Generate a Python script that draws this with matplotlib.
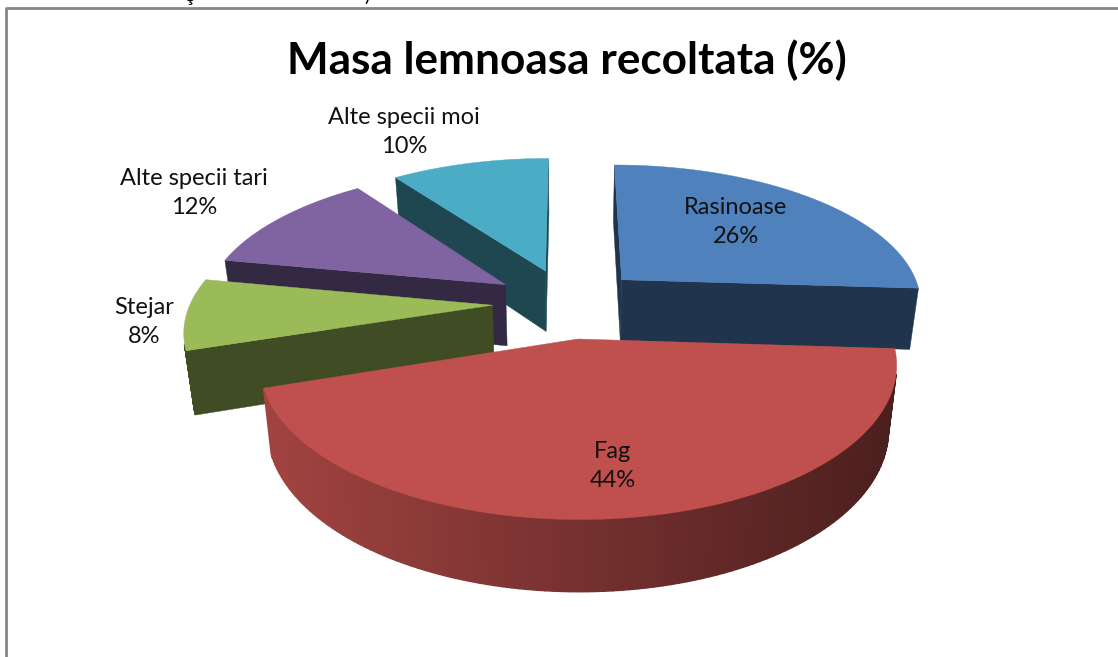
import numpy as np
import matplotlib
matplotlib.use("Agg")
import matplotlib.pyplot as plt
from matplotlib.patches import Polygon

TITLE = "Masa lemnoasa recoltata (%)"
CATEGORIES = ["Rasinoase", "Fag", "Stejar", "Alte specii tari", "Alte specii moi"]
VALUES = [26, 44, 8, 12, 10]
COLORS = ["#4F81BD", "#C0504D", "#9BBB59", "#8064A2", "#4BACC6"]
LABEL_POS = [(736, 222), (613, 466), (144, 322), (194, 193), (404, 132)]
DRAW_ORDER = [4, 0, 3, 2, 1]
GRADIENT_SLICE = 1

# projection of the exploded pie (pixel coordinates of the figure)
CX, CY, A, B, K = 568.0, 303.0, 302.0, 139.5, 0.157
EXPLODE, DEPTH, BOTTOM_SCALE = 0.25, 62.0, 0.975


def project(x, y, bottom=False):
    s = 1.0 / (1.0 - K * y)
    sx = CX + A * x * s
    sy = CY + B * y * s
    if bottom:
        sx = CX + (sx - CX) * BOTTOM_SCALE
        sy = sy + DEPTH * s ** 0.7
    return sx, sy


def shade(color, f):
    return tuple(c * f for c in matplotlib.colors.to_rgb(color))


def area(q):
    q = np.asarray(q)
    x, y = q[:, 0], q[:, 1]
    return 0.5 * np.sum(x * np.roll(y, -1) - np.roll(x, -1) * y)


fig = plt.figure(figsize=(11.18, 6.57), dpi=100)
ax = fig.add_axes([0, 0, 1, 1])
ax.set_xlim(0, 1118)
ax.set_ylim(657, 0)
ax.axis("off")
font = "Lato"

# chart frame and the cut-off line of text above it
ax.plot([6, 6, 1118], [657, 8, 8], color="#868686", lw=2.0, solid_capstyle="butt", zorder=1)
ax.text(190, 1, "ş", fontsize=15, family=font, ha="center", va="baseline", color="black")
ax.text(367, 1, ")", fontsize=15, family=font, ha="center", va="baseline", color="black")

ax.text(567, 60, TITLE, fontsize=31.8, family=font, weight="bold", ha="center", va="center", color="black", zorder=20)

total = float(sum(VALUES))
edges = np.concatenate([[0], np.cumsum(VALUES)]) / total * 2 * np.pi

z = 5
for i in DRAW_ORDER:
    a0, a1 = edges[i], edges[i + 1]
    mid = (a0 + a1) / 2
    ox, oy = EXPLODE * np.sin(mid), -EXPLODE * np.cos(mid)
    th = np.linspace(a0, a1, 120)
    wx, wy = ox + np.sin(th), oy - np.cos(th)
    top = np.array([project(ox, oy)] + [project(x, y) for x, y in zip(wx, wy)])
    bot = np.array([project(ox, oy, True)] + [project(x, y, True) for x, y in zip(wx, wy)])
    col = COLORS[i]
    wall = shade(col, 0.41)

    # radial walls, keeping only those that face the viewer
    n = len(top)
    for j, sign in ((1, -1), (n - 1, 1)):
        q = [top[0], top[j], bot[j], bot[0]]
        if sign * area(q) > 0:
            ax.add_patch(Polygon(q, closed=True, fc=wall, ec=wall, lw=0.3, zorder=z))
    # outer rim
    for j in range(1, n - 1):
        q = [top[j], top[j + 1], bot[j + 1], bot[j]]
        if area(q) > 0:
            continue
        if i == GRADIENT_SLICE:
            t = np.clip((top[j][0] - 263) / (897 - 263), 0, 1)
            c = shade(col, 0.84 - 0.45 * t)
        else:
            c = wall
        ax.add_patch(Polygon(q, closed=True, fc=c, ec=c, lw=1.0, zorder=z))
    ax.add_patch(Polygon(top, closed=True, fc=col, ec=col, lw=0.3, zorder=z + 0.5))
    z += 1

for name, v, (lx, ly) in zip(CATEGORIES, VALUES, LABEL_POS):
    ax.text(lx, ly, f"{name}\n{v}%", fontsize=17, family=font, ha="center", va="center",
            color="#111111", linespacing=1.5, zorder=21)

fig.savefig("out.png", dpi=100)
